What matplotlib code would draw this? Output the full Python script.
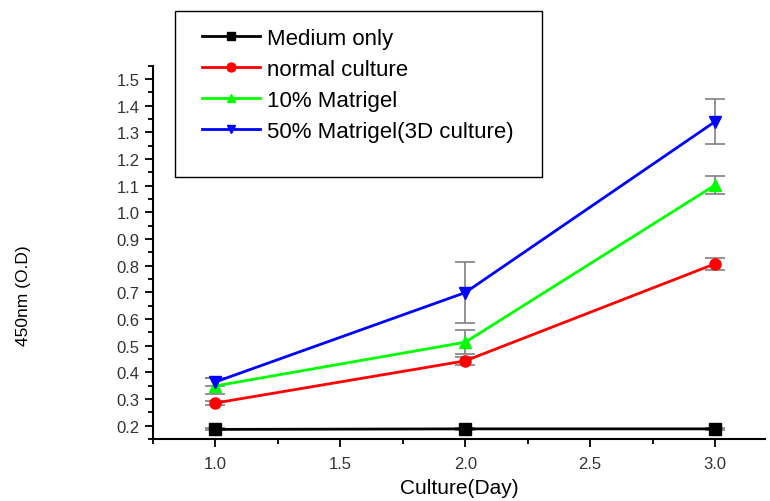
import matplotlib.pyplot as plt
from matplotlib.patches import Rectangle
from matplotlib.ticker import MultipleLocator
import numpy as np

plt.rcParams['font.family'] = ['Liberation Sans', 'DejaVu Sans']

days = [1.0, 2.0, 3.0]

medium_only = [0.186, 0.188, 0.188]
medium_err = [0.004, 0.004, 0.004]

normal_culture = [0.285, 0.443, 0.807]
normal_err = [0.008, 0.015, 0.022]

matrigel_10 = [0.349, 0.513, 1.102]
matrigel_10_err = [0.03, 0.045, 0.035]

matrigel_50 = [0.364, 0.699, 1.340]
matrigel_50_err = [0.015, 0.115, 0.084]

series = [
    ('Medium only', medium_only, medium_err, 'black', 's'),
    ('normal culture', normal_culture, normal_err, '#ff0000', 'o'),
    ('10% Matrigel', matrigel_10, matrigel_10_err, '#00ff00', '^'),
    ('50% Matrigel(3D culture)', matrigel_50, matrigel_50_err, '#0000ff', 'v'),
]

fig = plt.figure(figsize=(7.7, 5.02), dpi=100)
ax = fig.add_axes([0.1987, 0.1235, 0.7948, 0.7438])

handles = []
for label, y, err, color, marker in series:
    ax.errorbar(days, y, yerr=err, fmt='none', ecolor='#808080',
                elinewidth=1.2, capsize=7, capthick=1.2, zorder=2)
    h, = ax.plot(days, y, color=color, marker=marker, markersize=8,
                 lw=2, label=label, zorder=3)
    handles.append(h)

ax.set_xlim(0.75, 3.2)
ax.set_ylim(0.15, 1.55)
ax.xaxis.set_major_locator(MultipleLocator(0.5))
ax.xaxis.set_minor_locator(MultipleLocator(0.25))
ax.yaxis.set_major_locator(MultipleLocator(0.1))
ax.yaxis.set_minor_locator(MultipleLocator(0.05))
ax.xaxis.set_major_formatter(lambda v, p: f'{v:.1f}')
ax.yaxis.set_major_formatter(lambda v, p: f'{v:.1f}')
ax.set_yticks(np.arange(0.2, 1.51, 0.1))

for s in ['top', 'right']:
    ax.spines[s].set_visible(False)
for s in ['left', 'bottom']:
    ax.spines[s].set_linewidth(1.5)

ax.tick_params(which='major', direction='out', length=6, width=1.3,
               labelsize=12, labelcolor='#333333')
ax.tick_params(which='minor', direction='out', length=3.5, width=1.3)
ax.tick_params(axis='x', pad=6)

ax.set_xlabel('Culture(Day)', fontsize=15, labelpad=5)
fig.text(0.03, 0.41, '450nm (O.D)', rotation=90, fontsize=12.5,
         ha='center', va='center')

# legend with a tall frame drawn separately
fig.patches.append(Rectangle((175 / 770, 1 - 178 / 502), 367 / 770, 166 / 502,
                             transform=fig.transFigure, fill=False,
                             edgecolor='black', lw=1))
fig.legend(handles=handles, loc='upper left',
           bbox_to_anchor=(191 / 770, 1 - 18 / 502), frameon=False,
           fontsize=16, handlelength=2.6, handletextpad=0.3,
           labelspacing=0.45, borderpad=0, markerscale=0.8)

fig.savefig('out.png', dpi=100)
